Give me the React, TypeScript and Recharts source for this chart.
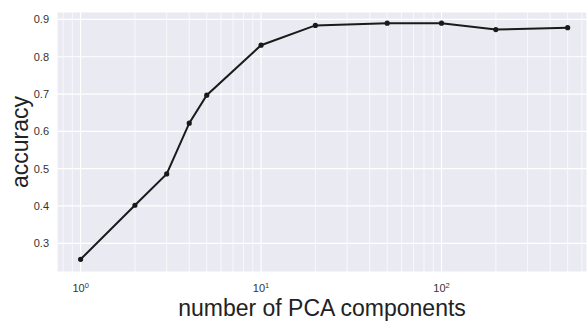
import React from "react";
import {
    LineChart,
    Line,
    XAxis,
    YAxis,
    CartesianGrid,
    ReferenceLine
} from "recharts";

// number of PCA components tried
const components = [1, 2, 3, 4, 5, 10, 20, 50, 100, 200, 500];
// accuracy
const accuracy = [0.257, 0.402, 0.486, 0.622, 0.697, 0.831, 0.884, 0.89, 0.89, 0.873, 0.878];

const xMajorTicks = [1, 10, 100];
const xMinorTicks = [0.8, 0.9, 2, 3, 4, 5, 6, 7, 8, 9, 20, 30, 40, 50, 60, 70, 80, 90, 200, 300, 400, 500, 600];
const yTicks = [0.3, 0.4, 0.5, 0.6, 0.7, 0.8, 0.9];

const data = components.map((n, i) => ({ n, acc: accuracy[i] }));

const FONT = "'Liberation Sans', Arial, sans-serif";

// renders 10^k with a raised exponent, like matplotlib's log ticks
const PowerTick = (props: any) => {
    const { x, y, payload } = props;
    const exp = Math.round(Math.log10(payload.value));
    return (
        <text x={x} y={y + 12} textAnchor="middle" fill="#333" fontSize={11} fontFamily={FONT}>
            <tspan>10</tspan>
            <tspan dy={-4} fontSize={7.5}>{exp}</tspan>
        </text>
    );
};

const App: React.FC = () => {
    return (
        <div style={{ position: "absolute", left: 0, top: 0, background: "#fff" }}>
            <LineChart
                width={587}
                height={323}
                data={data}
                margin={{ top: 12, right: 0, left: 0, bottom: 0 }}
            >
                <CartesianGrid
                    fill="#EAEAF2"
                    stroke="#fff"
                    strokeWidth={1.2}
                />
                {xMinorTicks.map((v) => (
                    <ReferenceLine key={v} x={v} stroke="#fff" strokeWidth={0.7} ifOverflow="hidden" />
                ))}
                <XAxis
                    dataKey="n"
                    type="number"
                    scale="log"
                    domain={[0.74, 640]}
                    allowDataOverflow
                    ticks={xMajorTicks}
                    tick={<PowerTick />}
                    tickLine={false}
                    axisLine={false}
                    height={51}
                    label={{
                        value: "number of PCA components",
                        position: "insideBottom",
                        offset: 7,
                        fontSize: 23,
                        fill: "#222",
                        fontFamily: FONT
                    }}
                />
                <YAxis
                    type="number"
                    domain={[0.223, 0.92]}
                    allowDataOverflow
                    ticks={yTicks}
                    tickFormatter={(v: number) => v.toFixed(1)}
                    tick={{ fontSize: 11, fill: "#333", fontFamily: FONT }}
                    tickLine={false}
                    axisLine={false}
                    width={57}
                    label={{
                        value: "accuracy",
                        angle: -90,
                        position: "insideLeft",
                        offset: 20,
                        style: { textAnchor: "middle" },
                        fontSize: 23,
                        fill: "#222",
                        fontFamily: FONT
                    }}
                />
                <Line
                    type="linear"
                    dataKey="acc"
                    stroke="#1a1a1a"
                    strokeWidth={2}
                    dot={{ r: 1.6, fill: "#1a1a1a", stroke: "#1a1a1a" }}
                    isAnimationActive={false}
                />
            </LineChart>
        </div>
    );
};

export default App;
